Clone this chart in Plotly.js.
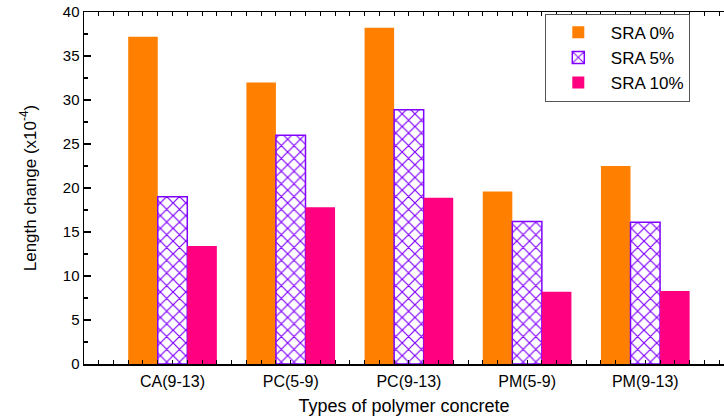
<!DOCTYPE html>
<html>
<head>
<meta charset="utf-8">
<script src="https://cdn.plot.ly/plotly-3.0.1.min.js"></script>
<style>html,body{margin:0;padding:0;background:#fff;}#chart{width:724px;height:419px;}</style>
</head>
<body>
<div id="chart"></div>
<script>
const categories = ["CA(9-13)", "PC(5-9)", "PC(9-13)", "PM(5-9)", "PM(9-13)"];
const seriesNames = ["SRA 0%", "SRA 5%", "SRA 10%"];
const sra0 = [37.2, 32.0, 38.2, 19.6, 22.5];
const sra5 = [19.0, 26.0, 28.9, 16.2, 16.1];
const sra10 = [13.4, 17.8, 18.9, 8.2, 8.3];

const FONT = "Liberation Sans, Arial, sans-serif";
const xRange = [-0.749, 4.666];

const traces = [
  {type: "bar", name: seriesNames[0], x: categories, y: sra0,
   marker: {color: "#FF8000", line: {width: 0}}},
  {type: "bar", name: seriesNames[1], x: categories, y: sra5,
   marker: {color: "#FFFFFF", line: {color: "#8000FF", width: 1.5},
            pattern: {shape: "x", fgcolor: "#8000FF", bgcolor: "#FFFFFF", size: 9, solidity: 0.25}}},
  {type: "bar", name: seriesNames[2], x: categories, y: sra10,
   marker: {color: "#FF0080", line: {width: 0}}},
  {type: "scatter", x: [xRange[0]], y: [0], xaxis: "x2", yaxis: "y",
   mode: "markers", marker: {opacity: 0}, showlegend: false, hoverinfo: "skip"}
];

const layout = {
  width: 724, height: 419,
  margin: {l: 84, r: 0, t: 12, b: 55},
  paper_bgcolor: "#fff", plot_bgcolor: "#fff",
  font: {family: FONT, color: "#000", size: 15},
  barmode: "group", bargap: 0.25, bargroupgap: 0,
  showlegend: true,
  legend: {x: 0.72, y: 0.995, xanchor: "left", yanchor: "top",
           bordercolor: "#555", borderwidth: 1, bgcolor: "#fff",
           font: {family: FONT, size: 17, color: "#000"},
           itemwidth: 55, tracegroupgap: 0, valign: "middle"},
  xaxis: {type: "category", range: xRange, showline: false, ticks: "",
          showgrid: false, zeroline: false, ticklabelstandoff: 6,
          tickfont: {family: FONT, size: 16},
          title: {text: "Types of polymer concrete", font: {family: FONT, size: 18}, standoff: 10}},
  xaxis2: {overlaying: "x", anchor: "y", side: "bottom", range: xRange,
           showline: true, linecolor: "#000", linewidth: 1.5,
           mirror: "ticks", ticks: "inside", tick0: 0, dtick: 0.125, ticklen: 4,
           tickcolor: "#000", showticklabels: false, showgrid: false, zeroline: false},
  yaxis: {range: [0, 40], dtick: 5, ticks: "inside", ticklen: 7, tickwidth: 1.2,
          tickcolor: "#000", showline: true, linecolor: "#000", linewidth: 1.5,
          showgrid: false, zeroline: false,
          minor: {dtick: 2.5, ticks: "inside", ticklen: 4, tickcolor: "#000", showgrid: false},
          tickfont: {family: FONT, size: 15},
          title: {text: "Length change (x10<sup>-4</sup>)",
                  font: {family: "Liberation Sans Narrow, Arial Narrow, Liberation Sans, sans-serif", size: 17},
                  standoff: 22}}
};

Plotly.newPlot("chart", traces, layout, {displayModeBar: false, staticPlot: true});
</script>
</body>
</html>
